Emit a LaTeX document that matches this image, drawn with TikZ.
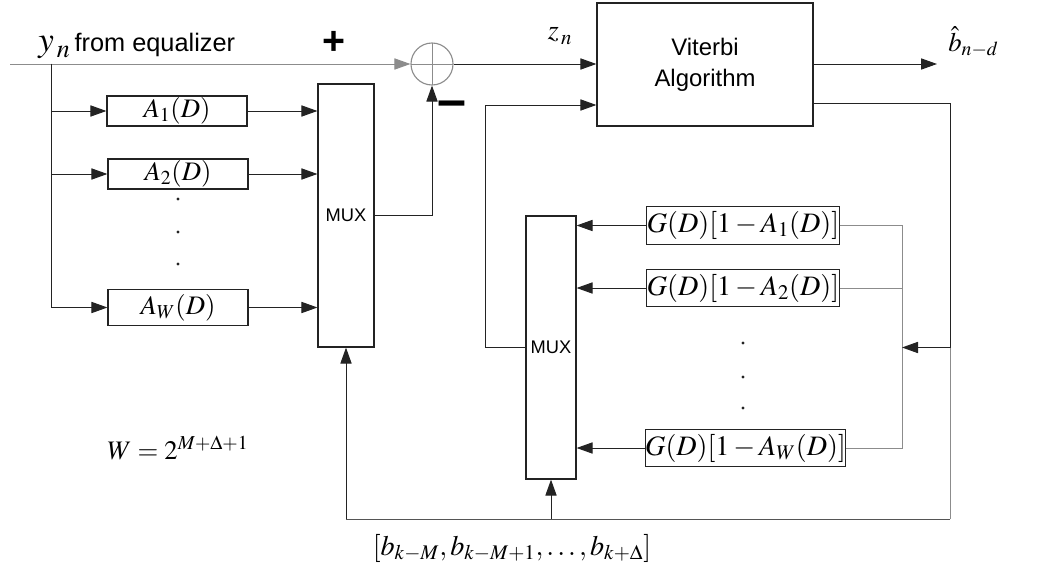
\documentclass[tikz,border=0pt]{standalone}
\usepackage{mathptmx}
\usepackage[no-math]{fontspec}
\setmainfont{Liberation Sans}
\usetikzlibrary{positioning,arrows.meta,calc}
\definecolor{wire}{RGB}{35,35,35}
\definecolor{busgray}{RGB}{140,140,140}
\definecolor{basegray}{RGB}{85,85,85}

\begin{document}
\begin{tikzpicture}[x=0.025cm, y=-0.025cm,
  blk/.style={rectangle, draw=wire, line width=0.8pt, inner sep=0pt, minimum width=#1},
  abox/.style={blk=3.5cm, minimum height=0.75cm, font=\fontsize{19}{20}\selectfont},
  gbox/.style={blk=4.65cm, minimum height=0.93cm, font=\fontsize{20}{22}\selectfont},
  mux/.style={blk=#1, minimum height=6.575cm, font=\fontsize{13}{14}\selectfont},
  dot/.style={circle, fill=wire, inner sep=0pt, minimum size=2.4pt},
  lbl/.style={inner sep=0pt, font=\fontsize{#1}{#1}\selectfont},
  ar/.style={-{Triangle[length=0.4cm, width=0.28cm]}, line width=0.7pt, draw=#1},
  ar/.default=wire,
  ln/.style={line width=0.7pt, draw=#1},
  ln/.default=wire,
]
\useasboundingbox (0,0) rectangle (1063,571);

\node[abox] (a1) at (177,111) {$A_1(D)$};
\node[abox] (a2) at (178,174) {$A_2(D)$};
\node[abox, minimum height=0.92cm] (aw) at (178,307.5) {$A_W(D)$};
\foreach \y in {199,232,264}
  \node[dot] (ld\y) at (178,\y) {};

\node[mux=1.4cm] (mux1) at (346,215.5) {MUX};

\node[circle, draw=busgray, line width=0.8pt, minimum size=1.05cm, inner sep=0pt,
      path picture={\draw[busgray, line width=0.6pt]
        (path picture bounding box.north) -- (path picture bounding box.south)
        (path picture bounding box.west) -- (path picture bounding box.east);}] (sum) at (432,64) {};

\node[blk=5.4cm, minimum height=3.075cm, align=center, font=\fontsize{17}{22}\selectfont] (va) at (705,64.5) {Viterbi\\Algorithm};

\node[mux=1.25cm] (mux2) at (551,347.5) {MUX};
\node[gbox] (g1) at (743,225.5) {$G(D)[1-A_1(D)]$};
\node[gbox] (g2) at (743,288) {$G(D)[1-A_2(D)]$};
\node[gbox, minimum width=4.72cm] (gw) at (745.5,448) {$G(D)[1-A_W(D)]$};
\foreach \y in {343,377,408}
  \node[dot] (rd\y) at (743,\y) {};

\coordinate (in)  at (10,64);
\coordinate (tap) at (51,64);
\coordinate (out) at (937,64);
\coordinate (fb)  at (485,105);
\coordinate (rt)  at (950,103);
\coordinate (bot) at (950,519);
\coordinate (bus) at (902,225.5);

\draw[ar=busgray] (in) -- (sum.west);
\foreach \s in {a1,a2,aw}
  \draw[ar] (tap) |- (\s.west);
\foreach \s in {a1,a2,aw}
  \draw[ar] (\s.east) -- (mux1.west|-\s.east);
\draw[ar] (mux1.east) -| (sum.south);
\draw[ar] (sum.east) -- (va.west|-sum.east);
\draw[ar] (va.east|-sum.east) -- (out);
\draw[ar] (mux2.west) -| (fb) -- (va.west|-fb);

\foreach \s in {g1,g2,gw}
  \draw[ar] (\s.west) -- (mux2.east|-\s.west);
\draw[ln=busgray] (g1.east) -- (bus) |- (gw.east);
\draw[ln=busgray] (g2.east) -- (bus|-g2.east);
\draw[ln] (va.east|-rt) -- (rt) -- (rt|-mux2.west);
\draw[ar] (rt|-mux2.west) -- (bus|-mux2.west);
\draw[ln=busgray] (rt|-mux2.west) -- (bot);
\draw[ln=basegray] (bot) -- (mux1.south|-bot);
\draw[ar] (mux1.south|-bot) -- (mux1.south);
\draw[ar] (mux2.south|-bot) -- (mux2.south);

\node[anchor=base west, inner sep=0pt, font=\fontsize{18}{20}\selectfont] (ylab) at (38,52)
  {{\fontsize{25}{25}\selectfont$y_{\,n}$}\,from equalizer};
\node[lbl=28] (plus)  at (334,43)  {\textbf{+}};
\node[lbl=37] (minus) at (452,109) {\textbf{–}};
\node[lbl=20] (zn)    at (560,36)  {$z_{\,n}$};
\node[lbl=19, anchor=west] (bhat) at (948,42) {$\hat{b}_{n-d}$};
\node[lbl=19] (wdef)  at (178,448) {$W = 2^{M+\Delta+1}$};
\node[lbl=20] (bvec)  at (512,548) {$[b_{k-M},b_{k-M+1},\dots,b_{k+\Delta}]$};

\end{tikzpicture}
\end{document}
